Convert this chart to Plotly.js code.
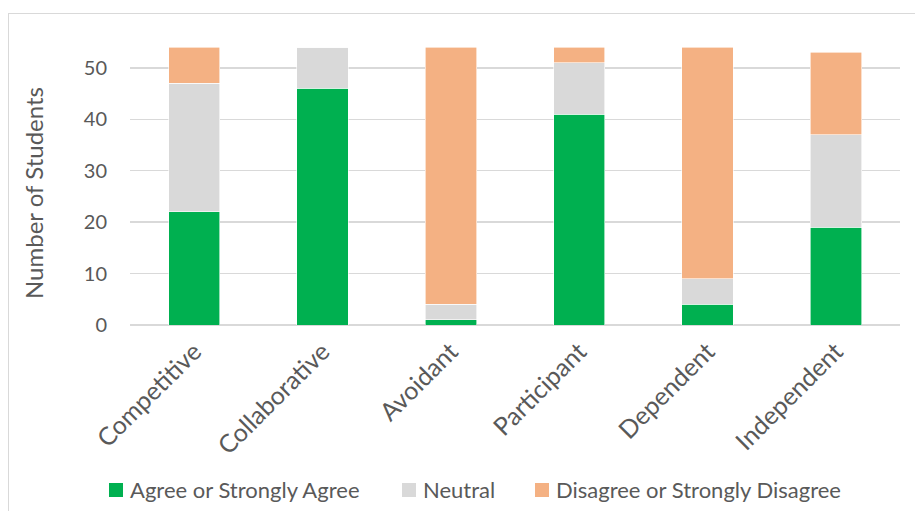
<!DOCTYPE html>
<html>
<head>
<meta charset="utf-8">
<script src="https://cdn.plot.ly/plotly-3.0.1.min.js"></script>
<style>
  html, body { margin: 0; padding: 0; background: #fff; overflow: hidden; }
  #wrap { position: relative; width: 915px; height: 511px; }
  #chart { position: absolute; left: 0; top: 0; width: 915px; height: 511px; }
  #frame { position: absolute; left: 8px; top: 13px; width: 1000px; height: 600px;
           border: 1px solid #d9d9d9; pointer-events: none; }
</style>
</head>
<body>
<div id="wrap">
  <div id="chart"></div>
  <div id="frame"></div>
</div>
<script>
const categories = ["Competitive", "Collaborative", "Avoidant", "Participant", "Dependent", "Independent"];
const agree = [22, 46, 1, 41, 4, 19];
const neutral = [25, 8, 3, 10, 5, 18];
const disagree = [7, 0, 50, 3, 45, 16];
const seriesNames = ["Agree or Strongly Agree", "Neutral", "Disagree or Strongly Disagree"];
const yTicks = [0, 10, 20, 30, 40, 50];
const yTitle = "Number of Students";

const colors = ["#00b050", "#d9d9d9", "#f4b183"];
const font = "Lato, 'Open Sans', sans-serif";
const txt = "#595959";

const traces = [agree, neutral, disagree].map((vals, i) => ({
  type: "bar",
  name: seriesNames[i],
  x: categories,
  y: vals,
  marker: { color: colors[i], line: { color: "#ffffff", width: 0.6 } },
  showlegend: false,
  hoverinfo: "x+y+name"
}));

const L = 130, R = 15, T = 37, B = 186, W = 915, H = 511;
const pw = W - L - R, ph = H - T - B;
const px2x = p => (p - L) / pw;
const py2y = p => (H - B - p) / ph;

// legend layout (pixel positions of the key squares)
const legendSquareX = [109, 402, 535];
const legendY = 490, sq = 14, textGap = 5;

const shapes = [];
const annotations = [{
  text: yTitle,
  xref: "paper", yref: "paper",
  x: px2x(33), y: py2y(193),
  xanchor: "center", yanchor: "middle",
  textangle: -90,
  showarrow: false,
  font: { size: 24, color: txt, family: font }
}];
seriesNames.forEach((nm, i) => {
  const x0 = legendSquareX[i];
  shapes.push({
    type: "rect", xref: "paper", yref: "paper",
    x0: px2x(x0), x1: px2x(x0 + sq),
    y0: py2y(legendY + sq / 2), y1: py2y(legendY - sq / 2),
    fillcolor: colors[i], line: { width: 0 }
  });
  annotations.push({
    text: nm, xref: "paper", yref: "paper",
    x: px2x(x0 + sq + textGap), y: py2y(legendY),
    xanchor: "left", yanchor: "middle", showarrow: false,
    font: { size: 22, color: txt, family: font }
  });
});

const layout = {
  width: W,
  height: H,
  barmode: "stack",
  bargap: 0.6,
  paper_bgcolor: "#ffffff",
  plot_bgcolor: "#ffffff",
  margin: { l: L, r: R, t: T, b: B, autoexpand: false },
  font: { family: font, color: txt },
  showlegend: false,
  xaxis: {
    type: "category",
    tickangle: -45,
    tickfont: { size: 25, color: txt, family: font },
    showgrid: false,
    zeroline: false,
    showline: false,
    ticks: "",
    ticklabelstandoff: 6,
    automargin: false,
    fixedrange: true
  },
  yaxis: {
    range: [0, 56],
    tickvals: yTicks,
    ticktext: yTicks.map(String),
    tickfont: { size: 20, color: txt, family: font },
    showgrid: true,
    gridcolor: "#d9d9d9",
    gridwidth: 1.5,
    zeroline: true,
    zerolinecolor: "#d9d9d9",
    zerolinewidth: 1.5,
    showline: false,
    ticks: "",
    ticklabelstandoff: 22,
    automargin: false,
    fixedrange: true
  },
  shapes: shapes,
  annotations: annotations
};

Plotly.newPlot("chart", traces, layout, { displayModeBar: false, staticPlot: true });
</script>
</body>
</html>
